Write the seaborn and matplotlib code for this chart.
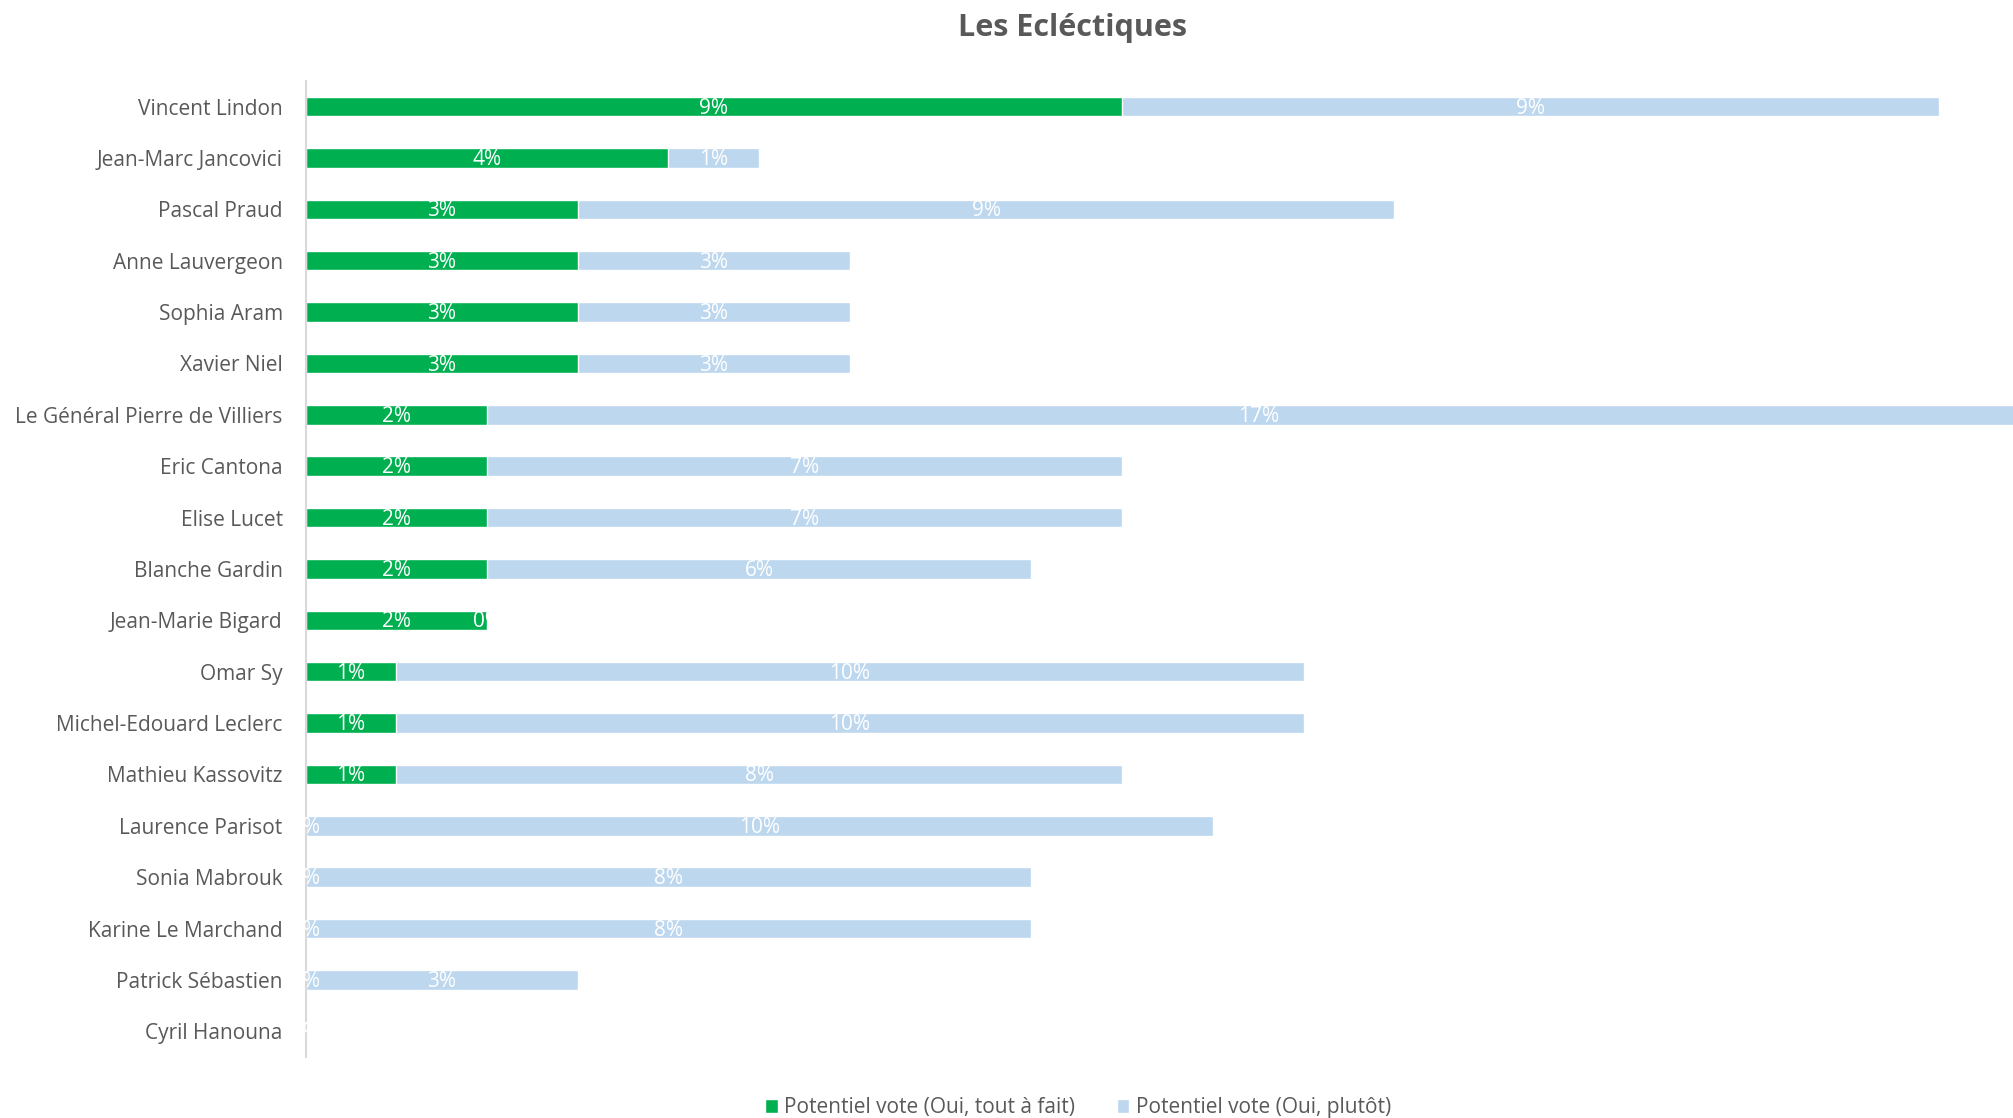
import seaborn as sns
import matplotlib.pyplot as plt
import pandas as pd

# données
noms = ['Vincent Lindon', 'Jean-Marc Jancovici', 'Pascal Praud', 'Anne Lauvergeon',
        'Sophia Aram', 'Xavier Niel', 'Le Général Pierre de Villiers', 'Eric Cantona',
        'Elise Lucet', 'Blanche Gardin', 'Jean-Marie Bigard', 'Omar Sy',
        'Michel-Edouard Leclerc', 'Mathieu Kassovitz', 'Laurence Parisot',
        'Sonia Mabrouk', 'Karine Le Marchand', 'Patrick Sébastien', 'Cyril Hanouna']
tout_a_fait = [9, 4, 3, 3, 3, 3, 2, 2, 2, 2, 2, 1, 1, 1, 0, 0, 0, 0, 0]
plutot = [9, 1, 9, 3, 3, 3, 17, 7, 7, 6, 0, 10, 10, 8, 10, 8, 8, 3, 0]

df = pd.DataFrame({'Nom': noms, 'Tout': tout_a_fait, 'Plutot': plutot})
df['Total'] = df['Tout'] + df['Plutot']

VERT = '#00B050'
BLEU = '#BDD7EE'
GRIS = '#595959'

sns.set_style('white')
plt.rcParams['font.family'] = ['Open Sans', 'DejaVu Sans']

fig = plt.figure(figsize=(20.13, 11.18), dpi=100)
ax = fig.add_axes([0.1518, 0.0546, 0.8482, 0.873])

# barres empilées : total en bleu clair, puis vert par-dessus
sns.barplot(data=df, x='Total', y='Nom', color=BLEU, width=0.38, ax=ax,
            label='Potentiel vote (Oui, plutôt)', saturation=1)
sns.barplot(data=df, x='Tout', y='Nom', color=VERT, width=0.38, ax=ax,
            label='Potentiel vote (Oui, tout à fait)', saturation=1)

# étiquettes
for i, row in df.iterrows():
    ax.text(row['Tout'] / 2, i + 0.03, f"{row['Tout']}%", color='white', fontsize=15,
            ha='center', va='center', clip_on=False)
    ax.text(row['Tout'] + row['Plutot'] / 2, i + 0.03, f"{row['Plutot']}%", color='white',
            fontsize=15, ha='center', va='center', clip_on=False)

ax.set_xlim(0, 18.82)
ax.set_ylim(18.5, -0.5)
ax.set_xlabel('')
ax.set_ylabel('')
ax.set_xticks([])
ax.tick_params(axis='y', length=0, labelsize=15, labelcolor=GRIS, pad=16.5)
for s in ['top', 'right', 'bottom']:
    ax.spines[s].set_visible(False)
ax.spines['left'].set_color('#D9D9D9')
ax.spines['left'].set_linewidth(1.5)

fig.text(0.533, 0.975, 'Les Ecléctiques', ha='center', va='center',
         fontsize=22, fontweight='bold', color=GRIS)

# légende
h, l = ax.get_legend_handles_labels()
ax.legend(h[::-1], l[::-1], loc='center', bbox_to_anchor=(0.5356, 0.009),
          bbox_transform=fig.transFigure, ncol=2, frameon=False, fontsize=15,
          labelcolor=GRIS, handlelength=0.6, handleheight=0.6, handletextpad=0.3,
          columnspacing=2.0)

fig.savefig('out.png', dpi=100)
